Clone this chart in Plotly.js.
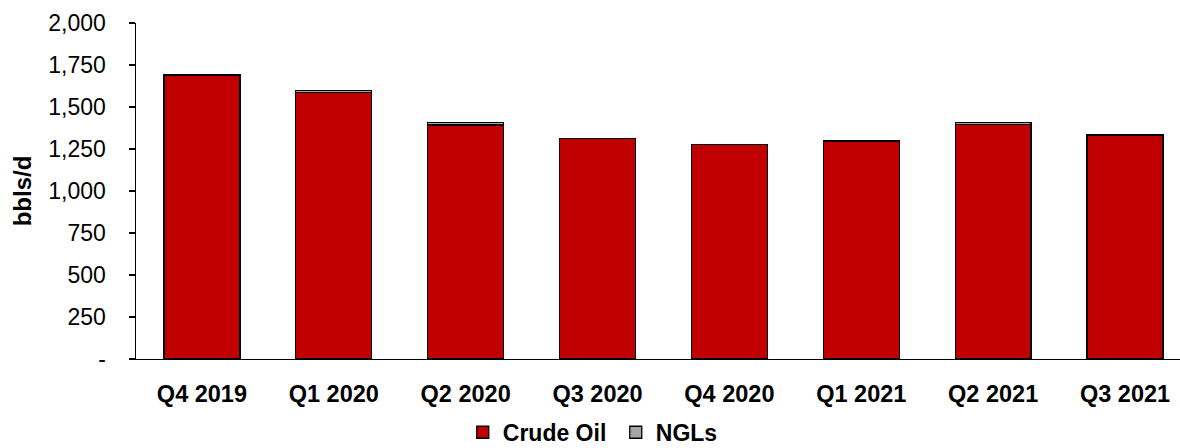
<!DOCTYPE html>
<html>
<head>
<meta charset="utf-8">
<script src="https://cdn.plot.ly/plotly-3.0.1.min.js"></script>
<style>html,body{margin:0;padding:0;background:#fff;}#chart{width:1180px;height:448px;}</style>
</head>
<body>
<div id="chart"></div>
<script>
const categories = ["Q4 2019", "Q1 2020", "Q2 2020", "Q3 2020", "Q4 2020", "Q1 2021", "Q2 2021", "Q3 2021"];
const crudeOil = [1690, 1585, 1393, 1312, 1276, 1297, 1395, 1334];
const ngls = [1, 12, 14, 1, 1, 1, 12, 1];
const yTickVals = [0, 250, 500, 750, 1000, 1250, 1500, 1750, 2000];
const yTickText = ["-", "250", "500", "750", "1,000", "1,250", "1,500", "1,750", "2,000"];

const FONT = "Liberation Sans, Arial, sans-serif";

const traces = [
  {
    type: "bar", name: "Crude Oil", x: categories, y: crudeOil,
    marker: {color: "#C00000", line: {color: "#000000", width: 1.3}},
    hoverinfo: "x+y+name"
  },
  {
    type: "bar", name: "NGLs", x: categories, y: ngls,
    marker: {color: "#A6A6A6", line: {color: "#000000", width: 1.3}},
    hoverinfo: "x+y+name"
  }
];

const layout = {
  width: 1180, height: 448,
  margin: {l: 136, r: 0, t: 23, b: 89, pad: 0, autoexpand: false},
  paper_bgcolor: "#ffffff", plot_bgcolor: "#ffffff",
  barmode: "stack", bargap: 0.424,
  font: {family: FONT, color: "#000000", size: 20},
  xaxis: {
    type: "category", range: [-0.5, 7.417], automargin: false,
    showline: true, linecolor: "#000000", linewidth: 1.2,
    ticks: "", showgrid: false, zeroline: false,
    tickfont: {family: FONT, size: 23.5, weight: "bold", color: "#000000"},
    ticklabelstandoff: 14
  },
  yaxis: {
    range: [0, 2000], tickmode: "array", tickvals: yTickVals, ticktext: yTickText,
    automargin: false,
    showline: true, linecolor: "#000000", linewidth: 1.5,
    ticks: "outside", ticklen: 6, tickcolor: "#000000", tickwidth: 1.5,
    showgrid: false, zeroline: false,
    tickfont: {family: FONT, size: 23, color: "#000000"},
    ticklabelstandoff: 18,
    title: {text: "bbls/d", font: {family: FONT, size: 24, weight: "bold", color: "#000000"}, standoff: 10}
  },
  showlegend: true,
  legend: {
    orientation: "h", x: 0.313, xanchor: "left",
    yref: "container", y: 0.035, yanchor: "middle",
    font: {family: FONT, size: 23, weight: "bold", color: "#000000"},
    itemwidth: 30, entrywidth: 108, entrywidthmode: "pixels",
    traceorder: "normal", bgcolor: "rgba(0,0,0,0)"
  }
};

Plotly.newPlot("chart", traces, layout, {displayModeBar: false, staticPlot: true});
</script>
</body>
</html>
